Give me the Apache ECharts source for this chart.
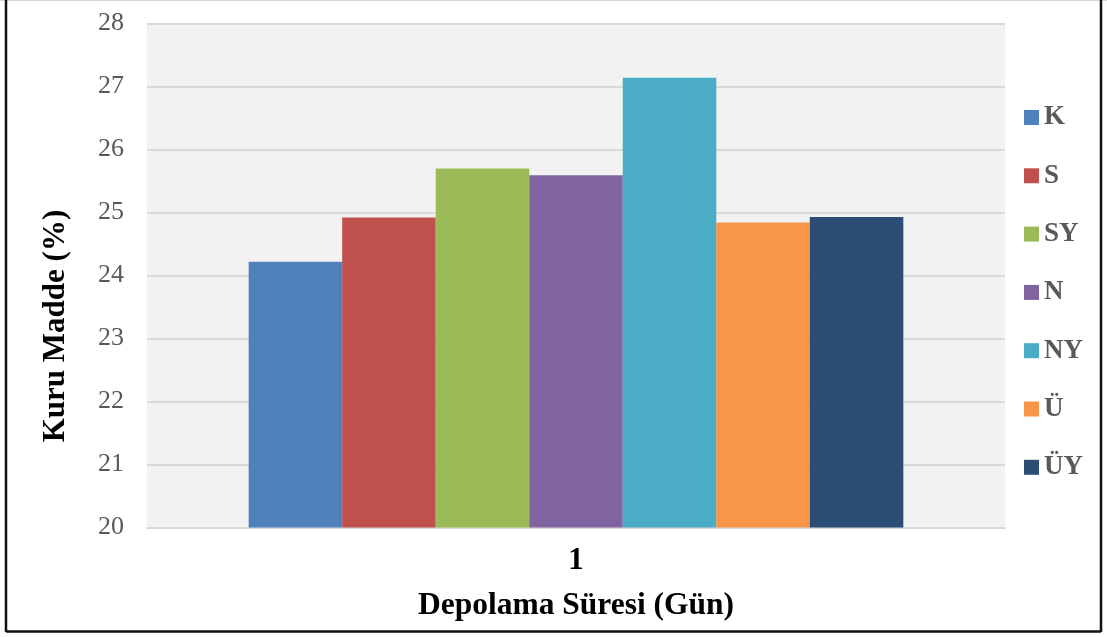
<!DOCTYPE html>
<html>
<head>
<meta charset="utf-8">
<script src="https://cdn.jsdelivr.net/npm/echarts@6/dist/echarts.min.js"></script>
<style>
  html, body { margin: 0; padding: 0; background: #fff; }
  #chart { width: 1107px; height: 637px; }
</style>
</head>
<body>
<div id="chart"></div>
<script>
// Storage day categories
const categories = ['1'];
// Treatment groups shown in the legend
const groups = ['K', 'S', 'SY', 'N', 'NY', 'Ü', 'ÜY'];
// Dry matter (%) per group, day 1
const K  = [24.22];
const S  = [24.92];
const SY = [25.70];
const N  = [25.59];
const NY = [27.14];
const U  = [24.84];
const UY = [24.93];
const values = [K, S, SY, N, NY, U, UY];
const colors = ['#4f81bd', '#c0504d', '#9bbb59', '#8064a2', '#4bacc6', '#f79646', '#2c4d75'];
// Y axis ticks
const yMin = 20, yMax = 28, yStep = 1;

const serif = '"Liberation Serif", "Times New Roman", serif';
const chart = echarts.init(document.getElementById('chart'), null, { renderer: 'canvas' });

chart.setOption({
  animation: false,
  backgroundColor: '#ffffff',
  color: colors,
  grid: {
    left: 147, right: 102, top: 23.5, bottom: 109.5,
    show: true, backgroundColor: '#f2f2f2', borderWidth: 0
  },
  legend: {
    orient: 'vertical',
    left: 1019,
    top: 99,
    padding: 5,
    itemWidth: 15,
    itemHeight: 15,
    itemGap: 31.3,
    icon: 'rect',
    data: groups,
    textStyle: { fontFamily: serif, fontSize: 27, fontWeight: 'bold', color: '#595959', lineHeight: 27 }
  },
  xAxis: {
    type: 'category',
    data: categories,
    name: 'Depolama Süresi (Gün)',
    nameLocation: 'middle',
    nameGap: 62,
    nameTextStyle: { fontFamily: serif, fontSize: 31.5, fontWeight: 'bold', color: '#000' },
    axisLine: { show: true, lineStyle: { color: '#d9d9d9', width: 2 } },
    axisTick: { show: false },
    axisLabel: { margin: 18, fontFamily: serif, fontSize: 31, fontWeight: 'bold', color: '#000' }
  },
  yAxis: {
    type: 'value',
    min: yMin, max: yMax, interval: yStep,
    axisLine: { show: false },
    axisTick: { show: false },
    axisLabel: { margin: 23, fontFamily: serif, fontSize: 26, color: '#595959' },
    splitLine: { lineStyle: { color: '#d9d9d9', width: 2 } }
  },
  series: groups.map((g, i) => ({
    name: g,
    type: 'bar',
    data: values[i],
    barGap: '0%',
    barCategoryGap: '23.7%',
    itemStyle: { color: colors[i] }
  })),
  graphic: [
    {
      type: 'text',
      x: 56, y: 326,
      rotation: Math.PI / 2,
      style: {
        text: 'Kuru Madde (%)',
        fontFamily: serif, fontSize: 31, fontWeight: 'bold', fill: '#000',
        textAlign: 'center', textVerticalAlign: 'middle'
      }
    },
    { type: 'line', shape: { x1: 0, y1: 0.5, x2: 1107, y2: 0.5 }, style: { stroke: '#d4d4d4', lineWidth: 1 } },
    { type: 'line', shape: { x1: 6, y1: 0, x2: 6, y2: 632 }, style: { stroke: '#111', lineWidth: 2.5 } },
    { type: 'line', shape: { x1: 1101, y1: 0, x2: 1101, y2: 632 }, style: { stroke: '#111', lineWidth: 2.5 } },
    { type: 'line', shape: { x1: 6, y1: 631.5, x2: 1101, y2: 631.5 }, style: { stroke: '#111', lineWidth: 2.5 } }
  ]
});
</script>
</body>
</html>
